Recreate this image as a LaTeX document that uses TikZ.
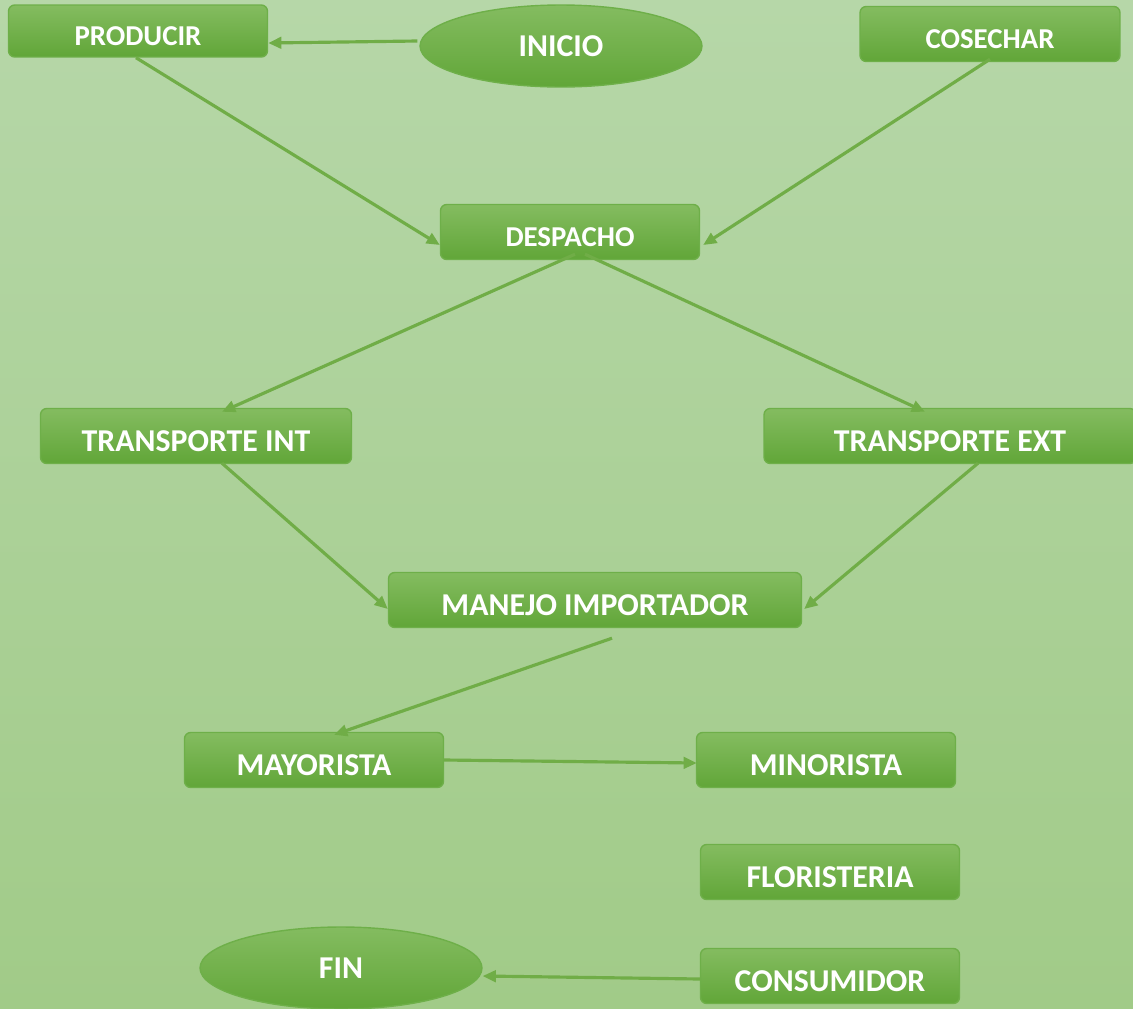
\documentclass[tikz,border=0pt]{standalone}
\usepackage{fontspec}
\setmainfont{Carlito}
\usepackage{tikz}
\usetikzlibrary{arrows.meta,positioning,shapes.geometric,calc}

\definecolor{fondoA}{HTML}{B6D7A8}
\definecolor{fondoB}{HTML}{A1CB88}
\definecolor{cajaA}{HTML}{84BC60}
\definecolor{cajaB}{HTML}{61A638}
\definecolor{borde}{HTML}{6EAF49}
\definecolor{flecha}{HTML}{70AD47}

\begin{document}
\begin{tikzpicture}[x=0.02cm, y=-0.02cm, ->, >={Triangle[length=7.5pt,width=6.5pt]}, line width=1.8pt, draw=flecha]
	\tikzstyle{caja}=[rectangle, rounded corners=3.5pt, draw=borde, line width=0.8pt, top color=cajaA, bottom color=cajaB, text=white, inner sep=0pt, minimum height=1.1cm, minimum width=5.18cm, font=\bfseries\fontsize{18.1}{19}\selectfont, text height=17.5pt, text depth=0pt]
	\tikzstyle{chica}=[font=\bfseries\fontsize{16.4}{17}\selectfont, text height=16pt]
	\tikzstyle{elipse}=[ellipse, draw=borde, line width=0.8pt, top color=cajaA, bottom color=cajaB, text=white, inner sep=0pt, minimum width=5.64cm, minimum height=1.64cm, font=\bfseries\fontsize{18.1}{19}\selectfont]

	% fondo
	\shade[top color=fondoA, bottom color=fondoB, draw=none] (0,0) rectangle (1133,1008);
	\useasboundingbox (0,0) rectangle (1133,1008);

	\node[caja, chica, minimum height=1.04cm]  (producir)   at (138,31)  {PRODUCIR};
	\node[elipse]                              (inicio)     at (561,46)  {INICIO};
	\node[caja, chica, minimum width=5.2cm]    (cosechar)   at (990,34)  {COSECHAR};
	\node[caja, chica]                         (despacho)   at (570,232) {DESPACHO};
	\node[caja, minimum width=6.22cm]          (tint)       at (196,436) {TRANSPORTE INT};
	\node[caja, minimum width=7.44cm]          (text)       at (950,436) {TRANSPORTE EXT};
	\node[caja, minimum width=8.26cm]          (manejo)     at (595,600) {MANEJO IMPORTADOR};
	\node[caja]                                (mayorista)  at (314,760) {MAYORISTA};
	\node[caja]                                (minorista)  at (826,760) {MINORISTA};
	\node[caja]                                (floristeria) at (830,872) {FLORISTERIA};
	\node[caja]                                (consumidor) at (830,976) {CONSUMIDOR};
	\node[elipse]                              (fin)        at (341,968) {FIN};

	\coordinate (bajo) at ($(manejo.south)+(17,10)$);

	\path
	($(inicio.west)+(-2,-5)$) edge ($(producir.east)+(0,12)$);

	\path
	($(producir.south)+(-2,0)$) edge ($(despacho.west)+(0,13)$)
	($(cosechar.south)+(0,-3)$) edge ($(despacho.east)+(3,13)$);

	\path
	($(despacho.south)+(5,-6)$)  edge ($(tint.north)+(26,4)$)
	($(despacho.south)+(15,-6)$) edge ($(text.north)+(-25,4)$);

	\path
	($(tint.south)+(26,-1)$) edge ($(manejo.west)+(0,9)$)
	($(text.south)+(28,-1)$) edge ($(manejo.east)+(2,9)$);

	\path
	(bajo) edge ($(mayorista.north)+(20,3)$)
	(mayorista.east) edge ($(minorista.west)+(1,3)$);

	\path
	($(consumidor.west)+(0,3)$) edge ($(fin.east)+(0,8)$);
\end{tikzpicture}
\end{document}
